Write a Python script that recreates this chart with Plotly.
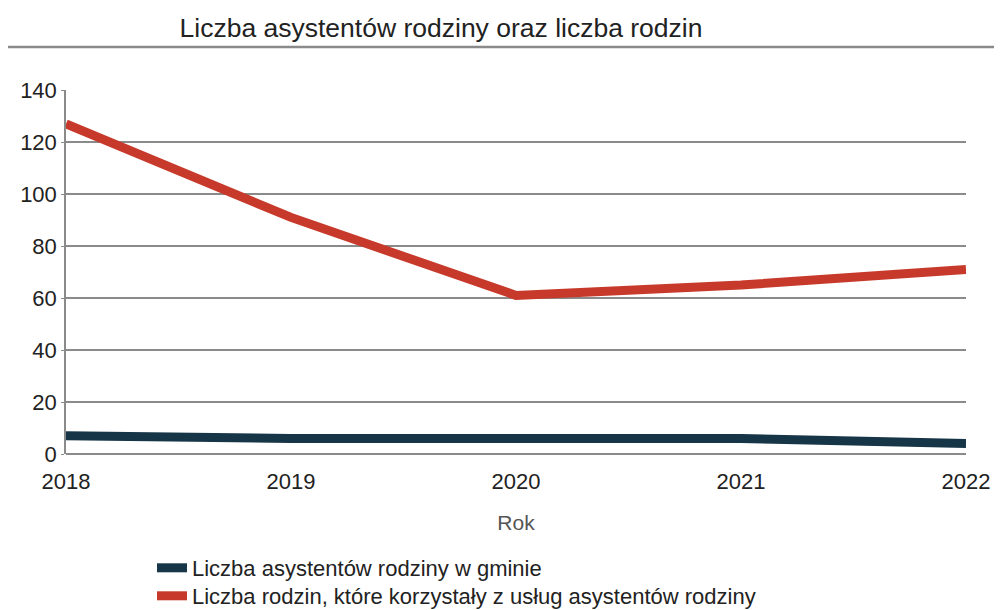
import plotly.graph_objects as go

years = [2018, 2019, 2020, 2021, 2022]
asystenci = [7, 6, 6, 6, 4]
rodziny = [127, 91, 61, 65, 71]
name_asystenci = "Liczba asystentów rodziny w gminie"
name_rodziny = "Liczba rodzin, które korzystały z usług asystentów rodziny"
title_text = "Liczba asystentów rodziny oraz liczba rodzin"
x_title = "Rok"
y_ticks = [0, 20, 40, 60, 80, 100, 120, 140]

FONT = "Liberation Sans, Arial, sans-serif"
RED = "#c73a2b"
DARK = "#163546"

# page body has an 8px margin, so the figure is 8px smaller and shifted
W, H = 994, 602
L, R, T, B = 58, 36, 82, 156
PW, PH = W - L - R, H - T - B

fig = go.Figure()
fig.add_trace(go.Scatter(x=years, y=asystenci, mode="lines", name=name_asystenci,
                         line=dict(color=DARK, width=9), legend="legend"))
fig.add_trace(go.Scatter(x=years, y=rodziny, mode="lines", name=name_rodziny,
                         line=dict(color=RED, width=9), legend="legend2"))

legend_style = dict(xref="container", yref="container", x=144/W, xanchor="left",
                    yanchor="top", font=dict(family=FONT, size=22, color="#222"),
                    itemwidth=30, bgcolor="rgba(0,0,0,0)")

fig.update_layout(
    width=W, height=H,
    margin=dict(l=L, r=R, t=T, b=B, autoexpand=False),
    paper_bgcolor="white", plot_bgcolor="white",
    font=dict(family=FONT, size=20, color="#222"),
    title=dict(text=title_text, x=433/W, xanchor="center", y=1-20/H, yanchor="middle",
               font=dict(family=FONT, size=26.5, color="#222")),
    showlegend=True,
    legend=dict(legend_style, y=1-539/H),
    legend2=dict(legend_style, y=1-567/H),
    xaxis=dict(range=[2018, 2022], tickvals=years, ticktext=[str(y) for y in years],
               showgrid=False, zeroline=False, showline=False, automargin=False,
               tickfont=dict(size=22), ticks="", ticklabelstandoff=12,
               title=dict(text=x_title, font=dict(size=21, color="#555"), standoff=22)),
    yaxis=dict(range=[0, 140], tickvals=y_ticks, showgrid=True, gridcolor="#8a8a8a", gridwidth=1.5,
               zeroline=True, zerolinecolor="#8a8a8a", zerolinewidth=1.5,
               showline=True, linecolor="#8a8a8a", linewidth=1.5, automargin=False,
               ticks="outside", ticklen=3, tickcolor="#8a8a8a",
               tickfont=dict(size=22)),
)

fig.add_shape(type="line", xref="paper", yref="paper",
              x0=-L/PW, x1=1+R/PW, y0=(PH + T - 39)/PH, y1=(PH + T - 39)/PH,
              line=dict(color="#8a8a8a", width=2.5))

fig.write_html("out.html")
